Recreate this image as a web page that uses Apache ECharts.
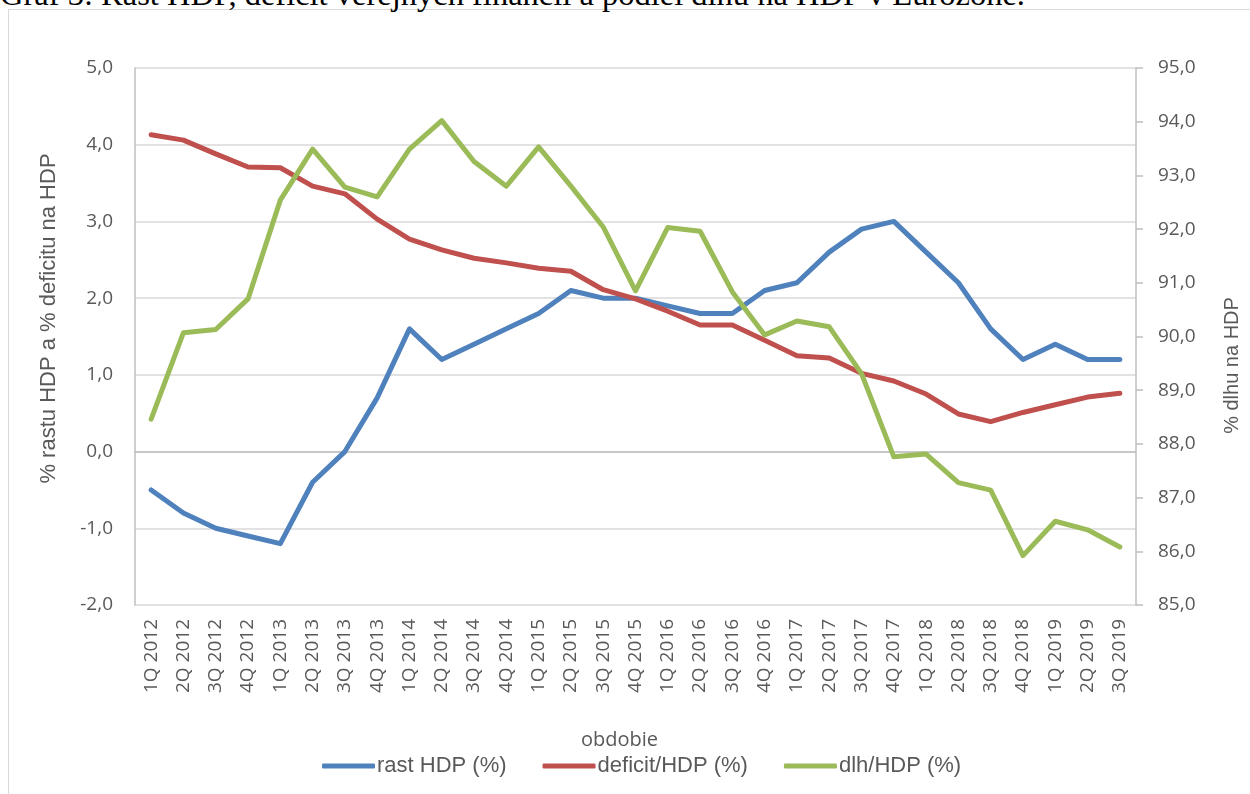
<!DOCTYPE html>
<html>
<head>
<meta charset="utf-8">
<script src="https://cdn.jsdelivr.net/npm/echarts@6/dist/echarts.min.js"></script>
<style>
  html, body { margin: 0; padding: 0; background: #fff; overflow: hidden; }
  #frame { position: absolute; left: 8px; top: 9px; width: 1400px; height: 900px; border: 1.5px solid #d9d9d9; box-sizing: border-box; }
  #title { position: absolute; left: 0px; top: -22px; font-family: "Liberation Serif", "Times New Roman", serif; font-size: 32.5px; line-height: 1; white-space: nowrap; color: #000; }
  #chart { position: absolute; left: 0; top: 0; width: 1250px; height: 794px; }
</style>
</head>
<body>
<div id="frame"></div>
<div id="title">Graf 3: Rast HDP, deficit verejných financií a podiel dlhu na HDP v Eurozóne.</div>
<div id="chart"></div>
<script>
const categories = ["1Q 2012","2Q 2012","3Q 2012","4Q 2012","1Q 2013","2Q 2013","3Q 2013","4Q 2013",
  "1Q 2014","2Q 2014","3Q 2014","4Q 2014","1Q 2015","2Q 2015","3Q 2015","4Q 2015",
  "1Q 2016","2Q 2016","3Q 2016","4Q 2016","1Q 2017","2Q 2017","3Q 2017","4Q 2017",
  "1Q 2018","2Q 2018","3Q 2018","4Q 2018","1Q 2019","2Q 2019","3Q 2019"];
const rastHDP = [-0.5,-0.8,-1.0,-1.1,-1.2,-0.4,0.0,0.7,1.6,1.2,1.4,1.6,1.8,2.1,2.0,2.0,
  1.9,1.8,1.8,2.1,2.2,2.6,2.9,3.0,2.6,2.2,1.6,1.2,1.4,1.2,1.2];
const deficitHDP = [4.13,4.06,3.88,3.71,3.70,3.46,3.36,3.03,2.77,2.63,2.52,2.46,2.39,2.35,2.11,1.99,
  1.83,1.65,1.65,1.45,1.25,1.22,1.02,0.92,0.75,0.49,0.39,0.51,0.61,0.71,0.76];
const dlhHDP = [88.46,90.07,90.13,90.70,92.54,93.49,92.78,92.60,93.49,94.02,93.26,92.80,93.53,92.80,92.04,90.85,
  92.03,91.96,90.83,90.03,90.29,90.18,89.31,87.76,87.81,87.28,87.14,85.92,86.56,86.40,86.08];
const leftTicks = {min: -2, max: 5, interval: 1};
const rightTicks = {min: 85, max: 95, interval: 1};

const fmt = v => v.toFixed(1).replace('.', ',');
const tickFont = '"Open Sans", "Liberation Sans", sans-serif';
const titleFont = '"Liberation Sans", Arial, sans-serif';

const chart = echarts.init(document.getElementById('chart'), null, {renderer: 'canvas'});
chart.setOption({
  backgroundColor: 'transparent',
  animation: false,
  grid: {left: 135, right: 110, top: 68, bottom: 189, containLabel: false},
  legend: {
    bottom: 12, left: 317,
    itemWidth: 53, itemHeight: 5, itemGap: 36,
    icon: 'roundRect',
    textStyle: {fontFamily: titleFont, fontSize: 22, color: '#595959', padding: [0,0,0,-3]},
    data: ['rast HDP (%)', 'deficit/HDP (%)', 'dlh/HDP (%)']
  },
  xAxis: {
    type: 'category', data: categories, boundaryGap: true,
    name: 'obdobie', nameLocation: 'middle', nameGap: 125,
    nameTextStyle: {fontFamily: tickFont, fontSize: 20, color: '#595959', padding: [0, 32, 0, 0]},
    axisLine: {lineStyle: {color: '#bfbfbf', width: 1.5}},
    axisTick: {show: false},
    axisLabel: {rotate: 90, interval: 0, margin: 14, fontFamily: tickFont, fontSize: 19, color: '#595959'}
  },
  yAxis: [
    {
      type: 'value', min: leftTicks.min, max: leftTicks.max, interval: leftTicks.interval,
      name: '% rastu HDP a % deficitu na HDP', nameLocation: 'middle', nameGap: 75,
      nameTextStyle: {fontFamily: titleFont, fontSize: 22, color: '#595959', padding: [0, 0, 0, 36]},
      axisLine: {show: true, lineStyle: {color: '#bfbfbf', width: 1.5}},
      axisTick: {show: false},
      axisLabel: {formatter: fmt, margin: 22, fontFamily: tickFont, fontSize: 19, color: '#595959'},
      splitLine: {show: true, lineStyle: {color: '#d9d9d9', width: 1.5}}
    },
    {
      type: 'value', position: 'right', min: rightTicks.min, max: rightTicks.max, interval: rightTicks.interval,
      name: '% dlhu na HDP', nameLocation: 'middle', nameGap: 86, nameRotate: 90,
      nameTextStyle: {fontFamily: titleFont, fontSize: 20, color: '#595959', padding: [0, 58, 0, 0]},
      axisLine: {show: true, lineStyle: {color: '#bfbfbf', width: 1.5}},
      axisTick: {show: true, length: 7, lineStyle: {color: '#bfbfbf', width: 1.5}},
      axisLabel: {formatter: fmt, margin: 22, fontFamily: tickFont, fontSize: 19, color: '#595959'},
      splitLine: {show: false}
    }
  ],
  series: [
    {name: 'rast HDP (%)', type: 'line', yAxisIndex: 0, data: rastHDP, showSymbol: false, symbol: 'none',
     lineStyle: {color: '#4F81BD', width: 5, cap: 'round', join: 'round'}, itemStyle: {color: '#4F81BD'}},
    {name: 'deficit/HDP (%)', type: 'line', yAxisIndex: 0, data: deficitHDP, showSymbol: false, symbol: 'none',
     lineStyle: {color: '#C0504D', width: 5, cap: 'round', join: 'round'}, itemStyle: {color: '#C0504D'}},
    {name: 'dlh/HDP (%)', type: 'line', yAxisIndex: 1, data: dlhHDP, showSymbol: false, symbol: 'none',
     lineStyle: {color: '#9BBB59', width: 5, cap: 'round', join: 'round'}, itemStyle: {color: '#9BBB59'}}
  ]
});
</script>
</body>
</html>
